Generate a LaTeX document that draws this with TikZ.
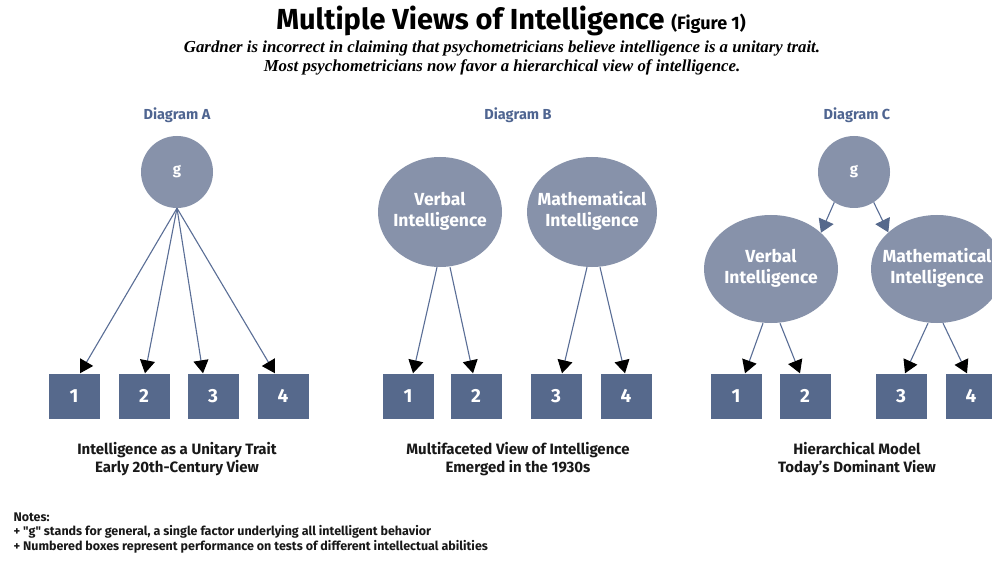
\documentclass[tikz,border=0pt]{standalone}
\usepackage{fontspec}
\setmainfont{Fira Sans}
\newfontfamily\serifsub{Liberation Serif}
\newfontfamily\notesfont{Fira Sans}[Ligatures=TeXOff]
\usetikzlibrary{arrows.meta,shapes.geometric}
\definecolor{nodefill}{RGB}{135,146,170}
\definecolor{boxfill}{RGB}{86,105,140}
\definecolor{linecol}{RGB}{90,110,150}
\definecolor{labelblue}{RGB}{79,101,145}
\definecolor{captext}{RGB}{25,25,25}
\newcommand{\twolines}[2]{\makebox[0pt]{\begin{tabular}{@{}c@{}}#1\\#2\end{tabular}}}
\begin{document}
\begin{tikzpicture}[x=1pt,y=-1pt,
  gnode/.style={circle, fill=nodefill, minimum size=72pt, inner sep=0pt, text=white, font=\bfseries\fontsize{15}{16}\selectfont},
  ell/.style={ellipse, fill=nodefill, inner sep=0pt, text=white, font=\bfseries\fontsize{17.5}{20}\selectfont},
  numbox/.style={rectangle, fill=boxfill, minimum width=51pt, minimum height=45pt, inner sep=0pt, text=white, font=\bfseries\fontsize{19}{19}\selectfont},
  toBox/.style={draw=linecol, line width=1.1pt, -{Triangle[length=13pt,width=15pt,black]}},
  toEll/.style={draw=linecol, line width=1.1pt, -{Triangle[length=13pt,width=16pt,boxfill]}},
  diaglabel/.style={text=labelblue, font=\bfseries\fontsize{14.5}{15}\selectfont},
  caption/.style={text=captext, align=center, font=\bfseries\fontsize{15}{18}\selectfont},
  notes/.style={text=captext, anchor=west, font=\notesfont\bfseries\fontsize{12.5}{13}\selectfont}]
\clip (0,0) rectangle (992,561);
\fill[white] (0,0) rectangle (992,561);

% title
\node[font=\bfseries\fontsize{29}{30}\selectfont] (title) at (511,21) {Multiple Views of Intelligence {\fontsize{18}{19}\selectfont (Figure 1)}};
\node[font=\serifsub\bfseries\itshape\fontsize{16.8}{18.5}\selectfont, align=center] (sub) at (502,58) {Gardner is incorrect in claiming that psychometricians believe intelligence is a unitary trait.\\Most psychometricians now favor a hierarchical view of intelligence.};

% Diagram A
\node[diaglabel] (labA) at (177,115) {Diagram A};
\node[gnode] (gA) at (177,172) {g};
\node[numbox] (a1) at (74,396) {1};
\node[numbox] (a2) at (144,396) {2};
\node[numbox] (a3) at (213,396) {3};
\node[numbox] (a4) at (283,396) {4};
\draw[toBox] (gA.south) -- ([xshift=6pt]a1.north);
\draw[toBox] (gA.south) -- ([xshift=1pt]a2.north);
\draw[toBox] (gA.south) -- ([xshift=-10pt]a3.north);
\draw[toBox] (gA.south) -- ([xshift=-8pt]a4.north);
\node[caption] (capA) at (177,459) {Intelligence as a Unitary Trait\\Early 20th-Century View};

% Diagram B
\node[diaglabel] (labB) at (518,115) {Diagram B};
\node[ell, minimum width=124pt, minimum height=110pt] (vB) at (440,212) {\twolines{Verbal}{Intelligence}};
\node[ell, minimum width=130pt, minimum height=110pt] (mB) at (592,212) {\twolines{Mathematical}{Intelligence}};
\node[numbox] (b1) at (408,396) {1};
\node[numbox] (b2) at (476,396) {2};
\node[numbox] (b3) at (556,396) {3};
\node[numbox] (b4) at (626,396) {4};
\draw[toBox] ([xshift=-3pt]vB.south) -- ([xshift=5pt]b1.north);
\draw[toBox] ([xshift=10pt]vB.south) -- ([xshift=-3pt]b2.north);
\draw[toBox] ([xshift=-5pt]mB.south) -- ([xshift=6pt]b3.north);
\draw[toBox] ([xshift=8pt]mB.south) -- ([xshift=-1pt]b4.north);
\node[caption] (capB) at (518,459) {Multifaceted View of Intelligence\\Emerged in the 1930s};

% Diagram C
\node[diaglabel] (labC) at (857,115) {Diagram C};
\node[gnode] (gC) at (854,172) {g};
\node[ell, minimum width=134pt, minimum height=108pt] (vC) at (771,269) {\twolines{Verbal}{Intelligence}};
\node[ell, minimum width=132pt, minimum height=108pt] (mC) at (937,269) {\twolines{Mathematical}{Intelligence}};
\node[numbox] (c1) at (736,396) {1};
\node[numbox] (c2) at (805,396) {2};
\node[numbox] (c3) at (901,396) {3};
\node[numbox] (c4) at (971,396) {4};
\draw[toEll] (gC.237) -- (vC.36);
\draw[toEll] (gC.303) -- (mC.143);
\draw[toBox] ([xshift=-8pt]vC.south) -- ([xshift=9pt]c1.north);
\draw[toBox] ([xshift=9pt]vC.south) -- ([xshift=-5pt]c2.north);
\draw[toBox] ([xshift=-9pt]mC.south) -- ([xshift=4pt]c3.north);
\draw[toBox] ([xshift=6pt]mC.south) -- ([xshift=-4pt]c4.north);
\node[caption] (capC) at (857,459) {Hierarchical Model\\Today's Dominant View};

% notes
\node[notes] (n1) at (10,517) {Notes:};
\node[notes] (n2) at (10,532) {+ "g" stands for general, a single factor underlying all intelligent behavior};
\node[notes] (n3) at (10,547) {+ Numbered boxes represent performance on tests of different intellectual abilities};
\end{tikzpicture}
\end{document}
